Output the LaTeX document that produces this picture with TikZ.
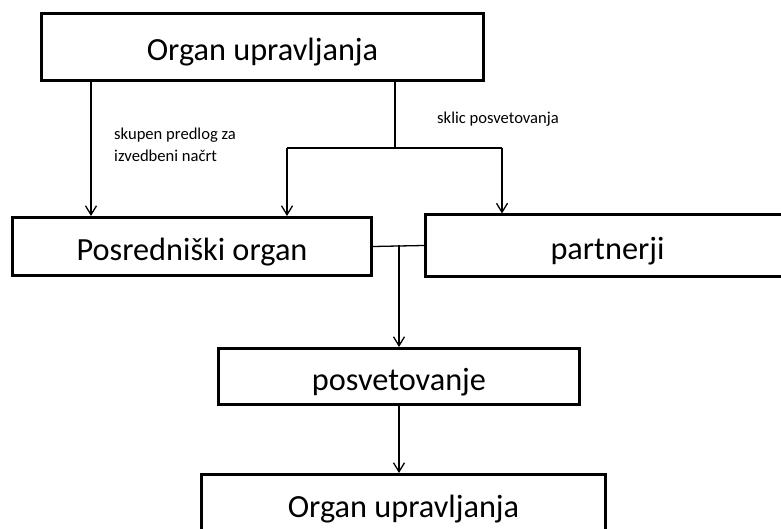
\documentclass[tikz,border=0pt]{standalone}
\usepackage{fontspec}
\setmainfont{Carlito}
\usetikzlibrary{arrows.meta}
\begin{document}
\begin{tikzpicture}[x=1pt,y=-1pt,
  box/.style={draw=black, line width=3pt, rectangle, inner sep=0pt,
    font=\fontsize{32.3}{38}\selectfont, text height=27pt, text depth=0pt},
  conn/.style={draw=black, line width=1.3pt},
  arr/.style={conn, -{Straight Barb[length=9pt,width=11pt,line width=1.3pt]}},
  lbl/.style={inner sep=0pt, font=\fontsize{16.6}{21.7}\selectfont, align=left}]
\useasboundingbox (0,0) rectangle (781,529);
\clip (0,0) rectangle (781,529);
\fill[white] (0,0) rectangle (781,529);
\node[box, minimum width=442pt, minimum height=67pt] (top) at (262.5,47.5) {Organ upravljanja};
\node[box, minimum width=359pt, minimum height=58pt] (pos) at (192,246.5) {Posredniški organ};
\node[box, minimum width=364pt, minimum height=61pt] (par) at (607.5,245.5) {partnerji};
\node[box, minimum width=361pt, minimum height=56pt] (posv) at (399,376.5) {posvetovanje};
\node[box, minimum width=404pt, minimum height=59pt] (bot) at (403.5,504) {Organ upravljanja};
\coordinate (cL) at (91,0);
\coordinate (cM) at (395,148);
\coordinate (bl) at (287,148);
\coordinate (br) at (502,148);
\coordinate (j) at (399,245.5);
\draw[arr] (top.south -| cL) -- (pos.north -| cL);
\draw[conn] (top.south -| cM) -- (cM);
\draw[conn] (bl) -- (br);
\draw[arr] (bl) -- (pos.north -| bl);
\draw[arr] (br) -- (par.north -| br);
\draw[conn] (pos.east) ++(0,0) -- (par.west);
\draw[arr] (j) -- (posv.north);
\draw[arr] (posv.south) -- (posv.south |- bot.north);
\node[lbl, anchor=base west] (l1) at (114,161.7) {skupen predlog za\\izvedbeni načrt};
\node[lbl, anchor=base west] (l2) at (437,123.5) {sklic posvetovanja};
\end{tikzpicture}
\end{document}
